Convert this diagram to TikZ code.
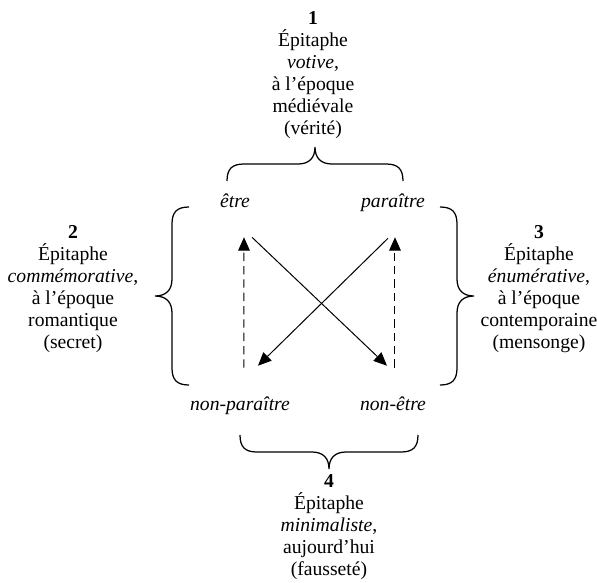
\documentclass[tikz,border=0pt]{standalone}
\usepackage{fontspec}
\setmainfont{Liberation Serif}
\usetikzlibrary{arrows.meta}

\begin{document}
\begin{tikzpicture}[
    x=0.6pt, y=-0.6pt,
    every node/.style={font=\fontsize{11.8}{13.2}\selectfont},
    epitaph/.style={align=center, inner sep=0pt},
    pole/.style={font=\fontsize{11.8}{13.2}\selectfont\itshape, inner sep=0pt, text height=1.6ex, text depth=0.3ex},
    solid arrow/.style={-{Triangle[length=8pt,width=7pt]}, line width=0.6pt},
    dash arrow/.style={solid arrow, dash pattern=on 5pt off 3pt},
    pics/accolade/.style={code={
        \draw[line width=0.75pt] (-#1,17) .. controls (-#1,5) and (-#1+5,0) .. (-#1+17,0) -- (-17,0)
          .. controls (-6,0) and (0,-6) .. (0,-17)
          .. controls (0,-6) and (6,0) .. (17,0) -- (#1-17,0)
          .. controls (#1-5,0) and (#1,5) .. (#1,17);
    }}
    ]
    \useasboundingbox (0,0) rectangle (597,583);

    % the four epitaphs
    \node[epitaph] (votive) at (313,75) {\textbf{1}\\Épitaphe\\\textit{votive},\\à l’époque\\médiévale\\(vérité)};
    \node[epitaph] (commemorative) at (73,289) {\textbf{2}\\Épitaphe\\\textit{commémorative},\\à l’époque\\romantique\\(secret)};
    \node[epitaph] (enumerative) at (539,289) {\textbf{3}\\Épitaphe\\\textit{énumérative},\\à l’époque\\contemporaine\\(mensonge)};
    \node[epitaph] (minimaliste) at (329,527) {\textbf{4}\\Épitaphe\\\textit{minimaliste},\\aujourd’hui\\(fausseté)};

    % the square
    \node[pole] (etre) at (235,203) {être};
    \node[pole] (paraitre) at (393,203) {paraître};
    \node[pole] (nonparaitre) at (240,406) {non-paraître};
    \node[pole] (nonetre) at (393,406) {non-être};

    % braces
    \pic at (315,164) {accolade=88};
    \pic[rotate=90] at (172,296) {accolade=89};
    \pic[rotate=-90] at (457,296) {accolade=89};
    \pic[rotate=180] at (329,452) {accolade=89};

    % arrows
    \draw[solid arrow] ([xshift=10.2pt,yshift=-16pt]etre.south) -- ([xshift=-3.6pt,yshift=19.6pt]nonetre.north);
    \draw[solid arrow] ([xshift=-3pt,yshift=-16.6pt]paraitre.south) -- ([xshift=10.8pt,yshift=19.6pt]nonparaitre.north);
    \draw[dash arrow] ([xshift=2.4pt,yshift=18.4pt]nonparaitre.north) -- ([xshift=5.4pt,yshift=-16pt]etre.south);
    \draw[dash arrow] ([xshift=1.2pt,yshift=18.4pt]nonetre.north) -- ([xshift=1.2pt,yshift=-16pt]paraitre.south);
\end{tikzpicture}
\end{document}
